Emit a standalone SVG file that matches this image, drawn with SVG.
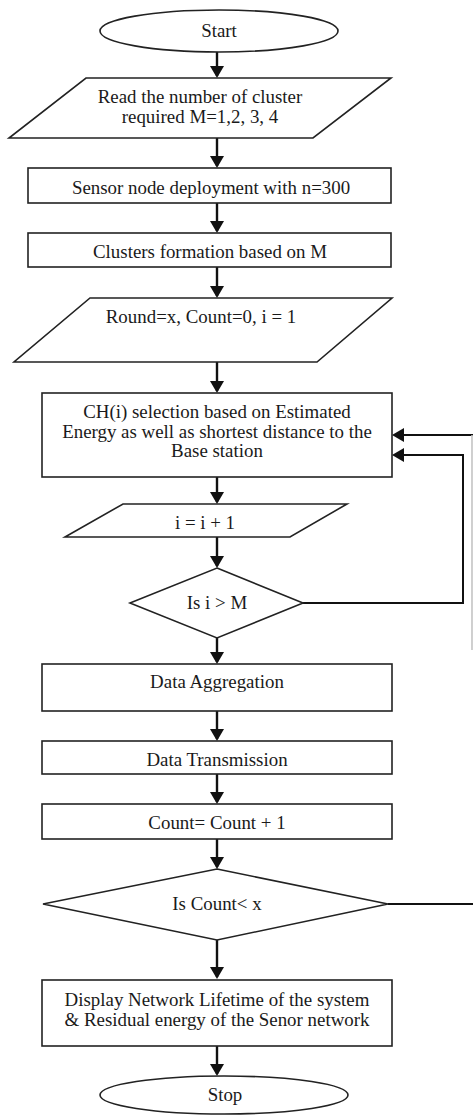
<svg xmlns="http://www.w3.org/2000/svg" width="473" height="1115" viewBox="0 0 473 1115">
<style>
.s{fill:#fff;stroke:#222;stroke-width:1.6}
.t{font-family:"Liberation Serif","Times New Roman",serif;font-size:18.9px;fill:#1a1a1a;text-anchor:middle}
.c{fill:none;stroke:#111;stroke-width:2.4}
.g{fill:none;stroke:#c4c4c4;stroke-width:1.6}
</style>
<defs>
<marker id="ah" viewBox="0 0 12 14" refX="10" refY="7" markerWidth="12" markerHeight="14" markerUnits="userSpaceOnUse" orient="auto">
<path d="M0,0 L12,7 L0,14 z" fill="#111"/>
</marker>
</defs>
<rect width="473" height="1115" fill="#fff"/>
<g id="connectors">
<line class="c" x1="217" y1="52" x2="217" y2="76" marker-end="url(#ah)"/>
<line class="c" x1="217" y1="138" x2="217" y2="166" marker-end="url(#ah)"/>
<line class="c" x1="217" y1="203" x2="217" y2="231" marker-end="url(#ah)"/>
<line class="c" x1="217" y1="267" x2="217" y2="296" marker-end="url(#ah)"/>
<line class="c" x1="217" y1="362" x2="217" y2="391" marker-end="url(#ah)"/>
<line class="c" x1="217" y1="477" x2="217" y2="502" marker-end="url(#ah)"/>
<line class="c" x1="217" y1="537" x2="217" y2="566" marker-end="url(#ah)"/>
<line class="c" x1="217" y1="638" x2="217" y2="662" marker-end="url(#ah)"/>
<line class="c" x1="217" y1="711" x2="217" y2="739" marker-end="url(#ah)"/>
<line class="c" x1="217" y1="774" x2="217" y2="802" marker-end="url(#ah)"/>
<line class="c" x1="217" y1="839" x2="217" y2="867" marker-end="url(#ah)"/>
<line class="c" x1="217" y1="940" x2="217" y2="977" marker-end="url(#ah)"/>
<line class="c" x1="217" y1="1046" x2="217" y2="1074" marker-end="url(#ah)"/>
<polyline class="c" points="303,603 463,603 463,455 394,455" marker-end="url(#ah)" style="stroke-width:2"/>
<line class="c" x1="473" y1="435" x2="394" y2="435" marker-end="url(#ah)" style="stroke-width:2"/>
<line class="g" x1="472" y1="435" x2="472" y2="650"/>
<line class="c" x1="388" y1="904" x2="473" y2="904" style="stroke-width:2"/>
</g>
<g id="start">
<ellipse class="s" cx="219" cy="31" rx="119" ry="21"/>
<text class="t" x="219" y="37">Start</text>
</g>
<g id="read">
<polygon class="s" points="86,78 391,78 313,138 9,138"/>
<text class="t" x="200" y="103">Read the number of cluster</text>
<text class="t" x="200" y="123">required M=1,2, 3, 4</text>
</g>
<g id="deploy">
<rect class="s" x="28" y="168" width="363" height="35"/>
<text class="t" x="211" y="194">Sensor node deployment with n=300</text>
</g>
<g id="clusters">
<rect class="s" x="28" y="233" width="363" height="34"/>
<text class="t" x="210" y="258">Clusters formation based on M</text>
</g>
<g id="round">
<polygon class="s" points="90,298 392,298 317,362 14,362"/>
<text class="t" x="201" y="323">Round=x, Count=0, i = 1</text>
</g>
<g id="chsel">
<rect class="s" x="42" y="393" width="350" height="84"/>
<text class="t" x="217" y="418">CH(i) selection based on Estimated</text>
<text class="t" x="217" y="438">Energy as well as shortest distance to the</text>
<text class="t" x="217" y="457">Base station</text>
</g>
<g id="inc">
<polygon class="s" points="123,504 347,504 290,537 65,537"/>
<text class="t" x="205" y="529">i = i + 1</text>
</g>
<g id="dec1">
<polygon class="s" points="217,568 303,603 217,638 130,603"/>
<text class="t" x="217" y="609">Is i &gt; M</text>
</g>
<g id="agg">
<rect class="s" x="42" y="664" width="350" height="47"/>
<text class="t" x="217" y="688">Data Aggregation</text>
</g>
<g id="trans">
<rect class="s" x="42" y="741" width="350" height="33"/>
<text class="t" x="217" y="766">Data Transmission</text>
</g>
<g id="count">
<rect class="s" x="42" y="804" width="350" height="35"/>
<text class="t" x="217" y="829">Count= Count + 1</text>
</g>
<g id="dec2">
<polygon class="s" points="217,869 388,904 217,940 43,904"/>
<text class="t" x="217" y="910">Is Count&lt; x</text>
</g>
<g id="display">
<rect class="s" x="42" y="980" width="350" height="66"/>
<text class="t" x="217" y="1006">Display Network Lifetime of the system</text>
<text class="t" x="217" y="1026">&amp; Residual energy of the Senor network</text>
</g>
<g id="stop">
<ellipse class="s" cx="224" cy="1095" rx="124" ry="19"/>
<text class="t" x="225" y="1101">Stop</text>
</g>
</svg>
